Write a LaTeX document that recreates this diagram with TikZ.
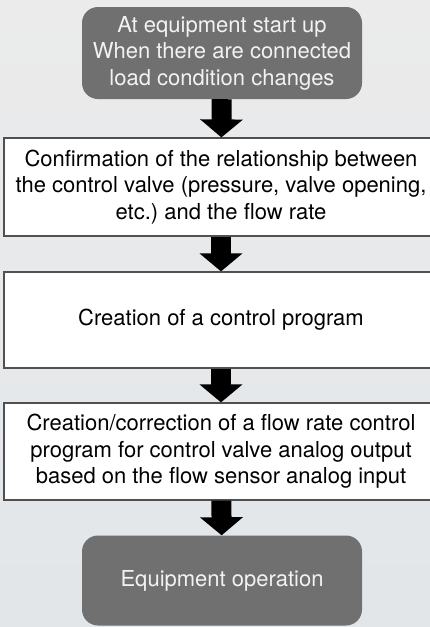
\documentclass[tikz,border=0pt]{standalone}
\usepackage{fontspec}
\setmainfont{TeX Gyre Heros}
\usetikzlibrary{arrows.meta}
\definecolor{bgtop}{HTML}{EBEBEB}
\definecolor{bgbottom}{HTML}{E2E6E9}
\definecolor{termgray}{HTML}{707070}
\definecolor{framegray}{HTML}{505050}
\begin{document}
\begin{tikzpicture}[x=1pt, y=-1pt,
	every node/.style={font=\fontsize{22}{26.5}\selectfont, align=center, inner sep=0pt},
	terminal/.style={fill=termgray, text=white!95!black, rounded corners=16pt, minimum width=280pt},
	process/.style={draw=framegray, line width=1.2pt, fill=white, minimum width=434pt},
	flow/.style={line width=20pt, line cap=butt, -{Triangle[width=42pt, length=18pt]}}]

	\useasboundingbox (0,0) rectangle (430,627);
	\shade [top color=bgtop, bottom color=bgbottom] (0,0) rectangle (430,627);

	% start and end
	\node [terminal, minimum height=92pt] (start) at (222,53) {At equipment start up\\When there are connected\\load condition changes};
	\node [terminal, minimum height=90pt] (operate) at (222,580.5) {Equipment operation};

	% steps
	\node [process, minimum height=98pt] (confirm) at (221,187) {Confirmation of the relationship between\\the control valve (pressure, valve opening,\\etc.)\ and the flow rate};
	\node [process, minimum height=96pt] (program) at (221,320) {Creation of a control program};
	\node [process, minimum height=97pt] (correct) at (221,451.5) {Creation/correction of a flow rate control\\program for control valve analog output\\based on the flow sensor analog input};

	\foreach \a/\b in {start/confirm, confirm/program, program/correct, correct/operate}
		\draw [flow] (\a) -- (\b);
\end{tikzpicture}
\end{document}
